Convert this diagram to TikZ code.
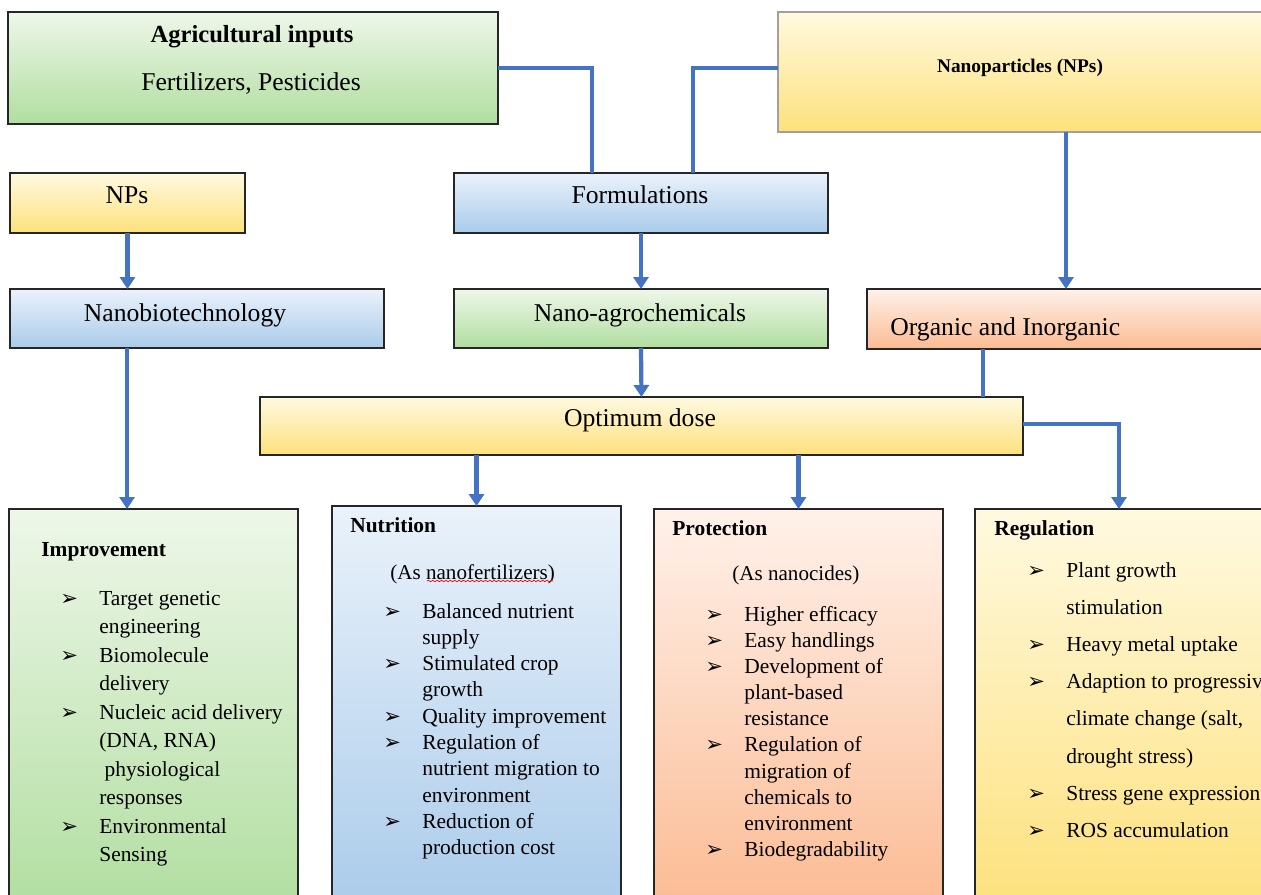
\documentclass[tikz,border=0pt]{standalone}
\usepackage{fontspec}
\setmainfont{Liberation Serif}
\newfontfamily\dejavu{DejaVu Sans}
\usetikzlibrary{arrows.meta,decorations.pathmorphing}
\definecolor{vgreentop}{HTML}{EEF7E9}
\definecolor{vgreenbot}{HTML}{B1DEA0}
\definecolor{vyellowtop}{HTML}{FFF9E0}
\definecolor{vyellowbot}{HTML}{FDE17C}
\definecolor{vbluetop}{HTML}{EAF2FB}
\definecolor{vbluebot}{HTML}{AACBEA}
\definecolor{vorangetop}{HTML}{FFF1EA}
\definecolor{vorangebot}{HTML}{FBBB93}
\definecolor{vlink}{HTML}{4472C4}
\definecolor{vborder}{HTML}{262626}
\definecolor{vlightborder}{HTML}{A0A0A0}
\newcommand{\blt}{{\dejavu\fontsize{12}{12}\selectfont ➢}}

\begin{document}
\begin{tikzpicture}[x=0.02cm, y=-0.02cm,
		box/.style={draw=vborder, line width=0.7pt, inner sep=0pt, outer sep=0pt},
		greenbox/.style={box, top color=vgreentop, bottom color=vgreenbot},
		yellowbox/.style={box, top color=vyellowtop, bottom color=vyellowbot},
		bluebox/.style={box, top color=vbluetop, bottom color=vbluebot},
		orangebox/.style={box, top color=vorangetop, bottom color=vorangebot},
		boxtext/.style={inner sep=0pt, font=\fontsize{14.6}{17}\selectfont, text height=10pt, text depth=0pt},
		head/.style={inner sep=0pt, anchor=west, font=\fontsize{12.2}{14}\selectfont\bfseries, text height=8.3pt, text depth=0pt},
		subhead/.style={inner sep=0pt, anchor=west, font=\fontsize{12}{14}\selectfont, text height=8.2pt, text depth=0pt},
		items/.style={inner sep=0pt, anchor=base west},
		link/.style={draw=vlink, line width=2.4pt},
		arr/.style={link, -{Triangle[length=0.24cm,width=0.3cm]}}]
		\useasboundingbox (0,0) rectangle (1261,895);
		\clip (0,0) rectangle (1261,895);

		\node[greenbox, minimum width=9.8cm, minimum height=2.24cm] (agri) at (253,68) {};
		\node[yellowbox, draw=vlightborder, minimum width=9.84cm, minimum height=2.4cm] (nano) at (1024,72) {};
		\node[yellowbox, minimum width=4.7cm, minimum height=1.2cm] (nps) at (127.5,203) {};
		\node[bluebox, minimum width=7.48cm, minimum height=1.2cm] (form) at (641,203) {};
		\node[bluebox, minimum width=7.48cm, minimum height=1.18cm] (nbt) at (197,318.5) {};
		\node[greenbox, minimum width=7.48cm, minimum height=1.18cm] (nagro) at (641,318.5) {};
		\node[orangebox, minimum width=8.06cm, minimum height=1.2cm] (orgin) at (1068.5,319) {};
		\node[yellowbox, minimum width=15.26cm, minimum height=1.16cm] (optdose) at (641.5,426) {};
		\node[greenbox, minimum width=5.78cm, minimum height=8.02cm] (impr) at (153.5,709.5) {};
		\node[bluebox, minimum width=5.78cm, minimum height=8.08cm] (nutr) at (476.5,708) {};
		\node[orangebox, minimum width=5.78cm, minimum height=8.02cm] (prot) at (798.5,709.5) {};
		\node[yellowbox, minimum width=5.9cm, minimum height=8.02cm] (regu) at (1122.5,709.5) {};

		\node[boxtext, font=\fontsize{14}{17}\selectfont\bfseries] (agrititle) at (252,34) {Agricultural inputs};
		\node[boxtext] (agrisub) at (251,82) {Fertilizers, Pesticides};
		\node[boxtext, font=\fontsize{11}{13}\selectfont\bfseries, text height=7.5pt] (nanotitle) at (1020,66) {Nanoparticles (NPs)};
		\node[boxtext] (npstext) at (127,195) {NPs};
		\node[boxtext] (formtext) at (640,195) {Formulations};
		\node[boxtext] (nbttext) at (185,313) {Nanobiotechnology};
		\node[boxtext] (nagrotext) at (640,313) {Nano-agrochemicals};
		\node[boxtext, anchor=west] (orgintext) at (890,327) {Organic and Inorganic};
		\node[boxtext] (optdosetext) at (640,418) {Optimum dose};

		\draw[link] (agri.east) -| ([xshift=-0.98cm]form.north);
		\draw[link] ([yshift=0.08cm]nano.west) -| ([xshift=1.04cm]form.north);
		\draw[arr] (nps.south) -- (nps.south |- nbt.north);
		\draw[arr] (form.south) -- (nagro.north);
		\draw[arr] ([xshift=0.84cm]nano.south) -- ([xshift=0.84cm]nano.south |- orgin.north);
		\draw[arr] ([xshift=-1.4cm]nbt.south) -- ([xshift=-1.4cm]nbt.south |- impr.north);
		\draw[arr] (nagro.south) -- (optdose.north);
		\draw[link] ([xshift=-1.71cm]orgin.south) -- ([xshift=-1.71cm]orgin.south |- optdose.north);
		\draw[arr] ([yshift=0.04cm]optdose.east) -| ([xshift=-0.07cm]regu.north);
		\draw[arr] (nutr.north |- optdose.south) -- (nutr.north);
		\draw[arr] (prot.north |- optdose.south) -- (prot.north);

		\node[head] (imprhead) at (41,549) {Improvement};
		\node[items, font=\fontsize{12.2}{16.25}\selectfont] (impritems) at (60,605) {%
			\begin{tabular}[t]{@{}p{0.78cm}@{}l@{}}
				\blt & Target genetic\\
				& engineering\\
				\blt & Biomolecule\\
				& delivery\\
				\blt & Nucleic acid delivery\\
				& (DNA, RNA)\\
				& \ physiological\\
				& responses\\
				\blt & Environmental\\
				& Sensing
			\end{tabular}};

		\node[head] (nutrhead) at (350,525) {Nutrition};
		\node[subhead] (nutrsub) at (390,572) {(As nanofertilizers)};
		\draw[red, line width=0.4pt, decorate, decoration={snake, amplitude=0.4pt, segment length=2.5pt}] ([xshift=0.74cm,yshift=-0.18cm]nutrsub.west) -- ([xshift=-0.04cm,yshift=-0.18cm]nutrsub.east);
		\node[items, font=\fontsize{12.2}{14.98}\selectfont] (nutritems) at (383,618) {%
			\begin{tabular}[t]{@{}p{0.78cm}@{}l@{}}
				\blt & Balanced nutrient\\
				& supply\\
				\blt & Stimulated crop\\
				& growth\\
				\blt & Quality improvement\\
				\blt & Regulation of\\
				& nutrient migration to\\
				& environment\\
				\blt & Reduction of\\
				& production cost
			\end{tabular}};

		\node[head] (prothead) at (672,528) {Protection};
		\node[subhead] (protsub) at (732,573) {(As nanocides)};
		\node[items, font=\fontsize{12.2}{14.9}\selectfont] (protitems) at (705,621) {%
			\begin{tabular}[t]{@{}p{0.78cm}@{}l@{}}
				\blt & Higher efficacy\\
				\blt & Easy handlings\\
				\blt & Development of\\
				& plant-based\\
				& resistance\\
				\blt & Regulation of\\
				& migration of\\
				& chemicals to\\
				& environment\\
				\blt & Biodegradability
			\end{tabular}};

		\node[head] (reguhead) at (994,528) {Regulation};
		\node[items, font=\fontsize{12.2}{21.2}\selectfont] (reguitems) at (1027,577) {%
			\begin{tabular}[t]{@{}p{0.78cm}@{}l@{}}
				\blt & Plant growth\\
				& stimulation\\
				\blt & Heavy metal uptake\\
				\blt & Adaption to progressive\\
				& climate change (salt,\\
				& drought stress)\\
				\blt & Stress gene expression\\
				\blt & ROS accumulation
			\end{tabular}};
	\end{tikzpicture}
\end{document}
